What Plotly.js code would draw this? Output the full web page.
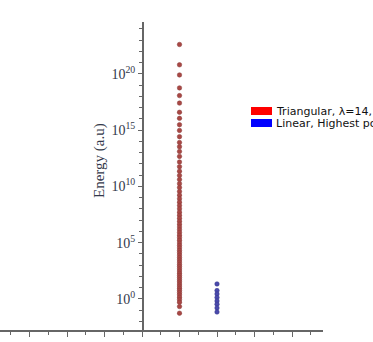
<!DOCTYPE html>
<html>
<head>
<meta charset="utf-8">
<script src="https://cdn.plot.ly/plotly-3.0.1.min.js"></script>
<style>html,body{margin:0;padding:0;background:#fff;}#chart{width:373px;height:342px;}</style>
</head>
<body>
<div id="chart"></div>
<script>
// Series: Triangular (index 1) and Linear (index 2) energies
const triX = 1;
const triEnergy = [
  4.0e22, 6.3e20, 7.9e19, 5.6e18, 1.15e18, 2.5e17, 3.8e16, 1.1e16, 3.0e15, 9.3e14,
  2.6e14, 7.9e13, 3.3e13, 1.26e13, 4.6e12, 1.45e12,
  5.6e11, 2.2e11, 9.3e10, 4.0e10, 1.74e10, 7.8e9, 3.5e9, 1.66e9, 7.9e8, 3.9e8,
  1.95e8, 1.0e8, 5.1e7, 2.7e7, 1.45e7, 7.9e6, 4.4e6, 2.45e6, 1.38e6, 7.9e5,
  4.6e5, 2.7e5, 1.6e5, 9.3e4, 5.6e4, 3.4e4, 2.04e4, 1.26e4, 7.8e3, 4.8e3,
  2.95e3, 1.86e3, 1.17e3, 741, 468, 302, 191, 123, 79, 50, 33, 21, 13.8, 8.9,
  5.75, 3.6, 2.3, 1.41, 0.85, 0.5, 0.21, 0.054
];
const linX = 2;
const linEnergy = [21.4, 5.5, 2.75, 1.32, 0.66, 0.34, 0.158, 0.069];
const legendNames = ["Triangular, \u03bb=14, Highest power=28", "Linear, Highest power=2"];
const yTickVals = [1, 1e5, 1e10, 1e15, 1e20];
const yTickText = ["10<sup>0</sup>", "10<sup>5</sup>", "10<sup>10</sup>", "10<sup>15</sup>", "10<sup>20</sup>"];

const minorVals = [];
for (let k = -2; k <= 24; k++) minorVals.push(Math.pow(10, k));

const traces = [
  {x: triEnergy.map(() => triX), y: triEnergy, type: 'scatter', mode: 'markers',
   marker: {symbol: 'circle', size: 4.5, color: '#a84844', line: {color: '#8a3a3a', width: 0.5}},
   showlegend: false, hoverinfo: 'y'},
  {x: linEnergy.map(() => linX), y: linEnergy, type: 'scatter', mode: 'markers',
   marker: {symbol: 'circle', size: 4.5, color: '#4a4aac', line: {color: '#38388a', width: 0.5}},
   showlegend: false, hoverinfo: 'y'}
];

// plot area: x 0..323 px, y 22..330 px
const W = 323, T = 22, B = 330, H = B - T;
const px = v => v / W;
const py = v => (B - v) / H;

const layout = {
  width: 373, height: 342,
  margin: {l: 0, r: 373 - W, t: T, b: 342 - B, pad: 0},
  paper_bgcolor: '#fff', plot_bgcolor: '#fff',
  showlegend: false,
  xaxis: {
    range: [-142 / 37.5, (W - 142) / 37.5],
    showgrid: false, zeroline: false, showline: true, linecolor: '#666', linewidth: 1.5,
    ticks: 'outside', ticklen: 5, tickcolor: '#666', dtick: 1, tick0: 0,
    minor: {dtick: 0.5, tick0: 0, ticklen: 3, tickcolor: '#666', ticks: 'outside'},
    showticklabels: false, fixedrange: true
  },
  yaxis: {
    type: 'log', range: [-2.76, 24.6],
    anchor: 'free', position: 142 / W,
    showgrid: false, zeroline: false, showline: true, linecolor: '#666', linewidth: 1.5,
    ticks: 'outside', ticklen: 4, tickcolor: '#666',
    tickmode: 'array', tickvals: yTickVals, ticktext: yTickText,
    minor: {tickmode: 'array', tickvals: minorVals, ticklen: 3, tickcolor: '#666', ticks: 'outside'},
    tickfont: {family: 'Liberation Serif, Times New Roman, serif', size: 14, color: '#33384a'},
    fixedrange: true
  },
  shapes: [
    {type: 'rect', xref: 'paper', yref: 'paper', x0: px(251), x1: px(272), y0: py(115), y1: py(107),
     fillcolor: '#ff0000', line: {width: 0}},
    {type: 'rect', xref: 'paper', yref: 'paper', x0: px(251), x1: px(272), y0: py(127), y1: py(119),
     fillcolor: '#0000ff', line: {width: 0}}
  ],
  annotations: [
    {xref: 'paper', yref: 'paper', x: px(274), y: py(111), xanchor: 'left', yanchor: 'middle',
     text: legendNames[0], showarrow: false,
     font: {family: 'DejaVu Sans, sans-serif', size: 11, color: '#111'}},
    {xref: 'paper', yref: 'paper', x: px(274), y: py(123), xanchor: 'left', yanchor: 'middle',
     text: legendNames[1], showarrow: false,
     font: {family: 'DejaVu Sans, sans-serif', size: 11, color: '#111'}},
    {xref: 'paper', yref: 'paper', x: px(99), y: py(161), xanchor: 'center', yanchor: 'middle',
     text: 'Energy (a.u)', textangle: -90, showarrow: false,
     font: {family: 'Liberation Serif, Times New Roman, serif', size: 15, color: '#33384a'}}
  ]
};

Plotly.newPlot('chart', traces, layout, {displayModeBar: false, staticPlot: true});
</script>
</body>
</html>
